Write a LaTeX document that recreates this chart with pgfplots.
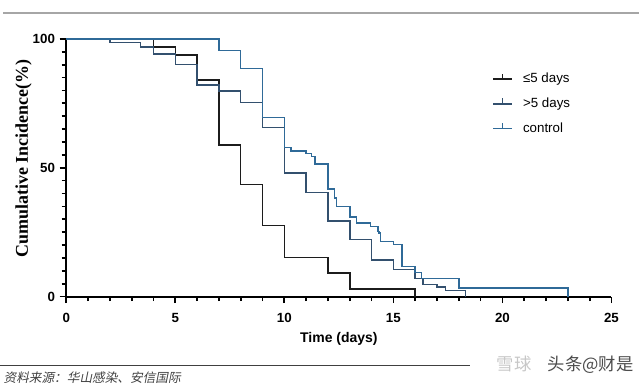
\documentclass[border=0pt]{standalone}
\usepackage{pgfplots}
\pgfplotsset{compat=1.18}
\usepackage{fontspec}
\setmainfont{Liberation Sans}
\newfontfamily\serifb{Liberation Serif}
\newfontfamily\cjk{Noto Sans CJK SC}
\newfontfamily\cjkit[FakeSlant=0.2]{Noto Sans CJK SC}
\definecolor{cless}{HTML}{1C1C1C}
\definecolor{cmore}{HTML}{33506E}
\definecolor{cctrl}{HTML}{2F6A98}
\begin{document}
\begin{tikzpicture}[x=0.75pt,y=0.75pt]
\path (0,0) rectangle (640,389);
\draw[black!35, line width=0.9pt] (3,376) -- (640,376);
\draw[black!75, line width=0.6pt] (0,23) -- (470,23);
\node[anchor=west, inner sep=0pt, font=\cjkit\fontsize{9.5}{10}\selectfont, text=black!75] at (3,11) {资料来源：华山感染、安信国际};
\node[anchor=west, inner sep=0pt, font=\cjk\fontsize{13}{14}\selectfont, text=black!22] at (497,24) {雪球};
\node[anchor=west, inner sep=0pt, font=\cjk\fontsize{13}{14}\selectfont, text=black!70] at (548,24) {头条@财是};
\begin{axis}[
  at={(49.5pt,69pt)}, anchor=south west,
  scale only axis, width=409.5pt, height=193.5pt,
  xmin=0, xmax=25, ymin=0, ymax=100,
  axis x line*=bottom, axis y line*=left,
  axis line style={line width=1.5pt, black},
  xtick={0,5,...,25}, ytick={0,50,100},
  minor x tick num=4, minor y tick num=9,
  tick align=outside,
  major tick length=5pt, minor tick length=3.5pt,
  every tick/.style={black, line width=1.3pt},
  /pgf/number format/assume math mode=true,
  tick label style={font=\bfseries\fontsize{10}{12}\selectfont},
  xticklabel style={yshift=-4pt},
  xlabel={Time (days)},
  xlabel style={font=\bfseries\fontsize{10.5}{12}\selectfont, at={(axis description cs:0.5,-0.165)}, anchor=center},
  ylabel={Cumulative Incidence(\%)},
  ylabel style={font=\serifb\bfseries\fontsize{13.5}{15}\selectfont, at={(axis description cs:-0.0785,0.535)}, anchor=center},
  legend style={draw=none, fill=none, at={(axis description cs:0.781,0.878)}, anchor=north west, font=\fontsize{10}{12}\selectfont, row sep=5.8pt, column sep=6pt, inner sep=0pt},
  legend cell align=left,
  legend image code/.code={\draw[#1] (0pt,0pt) -- (14pt,0pt); \draw[#1] (7pt,0pt) -- (7pt,4pt);},
  clip=false,
]
\addplot[const plot, cless, line width=1.1pt] coordinates {
(0,100) (4,96.9) (5,93.7) (6,84.0) (7,58.8) (8,43.4) (9,27.6) (10,15.2) (12,9.2) (13,3.0) (16,3.0) (16,0)
};
\addlegendentry{≤5 days}
\addplot[const plot, cmore, line width=1.1pt] coordinates {
(0,100) (2,98.6) (3.4,96.9) (4,94.1) (5,90.1) (6,82.1) (7,79.7) (8,75.4) (9,65.6) (10,47.9) (11,40.3) (12,29.4) (13,22.1) (14,14.1) (15,10.5) (16,7.0) (16.35,4.6) (17,3.7) (17.4,2.4) (18.3,2.4) (18.3,0)
};
\addlegendentry{>5 days}
\addplot[const plot, cctrl, line width=1.1pt] coordinates {
(0,100) (7,95.6) (8,88.5) (9,69.6) (10,57.9) (10.3,56.5) (11,55.6) (11.25,54.3) (11.4,51.4) (12,41.7) (12.3,38.2) (12.4,35.0) (13,30.9) (13.3,28.5) (13.95,27.2) (14.3,25.3) (14.35,24.7) (14.4,21.4) (15,20.1) (15.4,11.7) (16,9.4) (16.3,7.0) (18,3.4) (23,3.4) (23,0)
};
\addlegendentry{control}
\end{axis}
\end{tikzpicture}
\end{document}
